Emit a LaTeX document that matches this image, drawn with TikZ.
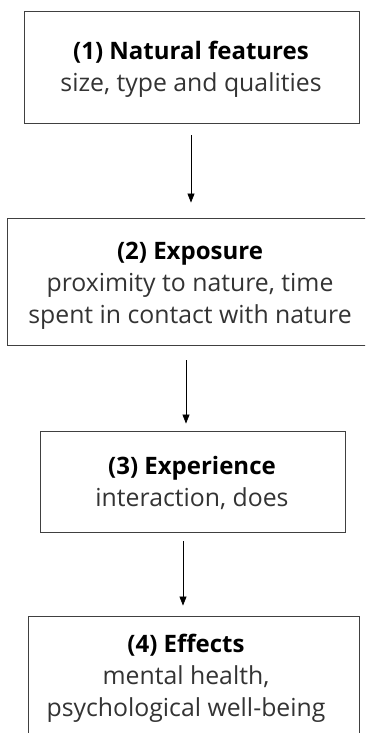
\documentclass[tikz,border=0pt]{standalone}
\usepackage{fontspec}
\setmainfont{Open Sans}
\usetikzlibrary{arrows.meta}
\definecolor{subgray}{HTML}{333333}
\definecolor{boxline}{HTML}{404040}
\tikzset{
  stage/.style={draw=boxline, line width=0.9pt, inner sep=0pt},
  stagetext/.style={align=center, anchor=base, inner sep=0pt, font=\fontsize{24.8}{32}\selectfont, text=subgray},
  flow/.style={draw=black, line width=0.8pt, -{Triangle[width=7pt,length=9pt]}}
}
\newcommand{\ttl}[1]{{\fontsize{24}{32}\selectfont\bfseries\color{black}#1}}
\begin{document}
\begin{tikzpicture}[x=1pt,y=-1pt]
\useasboundingbox (0,0) rectangle (365,733);
\begin{scope}
\clip (0,0) rectangle (365,733);
\node[stage, minimum width=335pt, minimum height=112pt] (b1) at (191.5,67) {};
\node[stage, minimum width=368pt, minimum height=127pt] (b2) at (191,281.5) {};
\node[stage, minimum width=305pt, minimum height=101pt] (b3) at (192.5,481.5) {};
\node[stage, minimum width=331pt, minimum height=134pt] (b4) at (193.5,683) {};
\end{scope}
\node[stagetext] (t1) at (191,91.5) {\ttl{(1) Natural features}\\size, type and qualities};
\node[stagetext] (t2) at (190,323.5) {\ttl{(2) Exposure}\\proximity to nature, time\\spent in contact with nature};
\node[stagetext] (t3) at (192,506.5) {\ttl{(3) Experience}\\interaction, does};
\node[stagetext] (t4) at (186,716.5) {\ttl{(4) Effects}\\mental health,\\psychological well-being};
\draw[flow, shorten <=12pt, shorten >=15pt] ([xshift=-0.5pt]b1.south) -- ([xshift=-0.5pt]b1.south |- b2.north);
\draw[flow, shorten <=15pt, shorten >=7pt] ([xshift=-5pt]b2.south) -- ([xshift=-5pt]b2.south |- b3.north);
\draw[flow, shorten <=9pt, shorten >=10pt] ([xshift=-9.5pt]b3.south) -- ([xshift=-9.5pt]b3.south |- b4.north);
\end{tikzpicture}
\end{document}
